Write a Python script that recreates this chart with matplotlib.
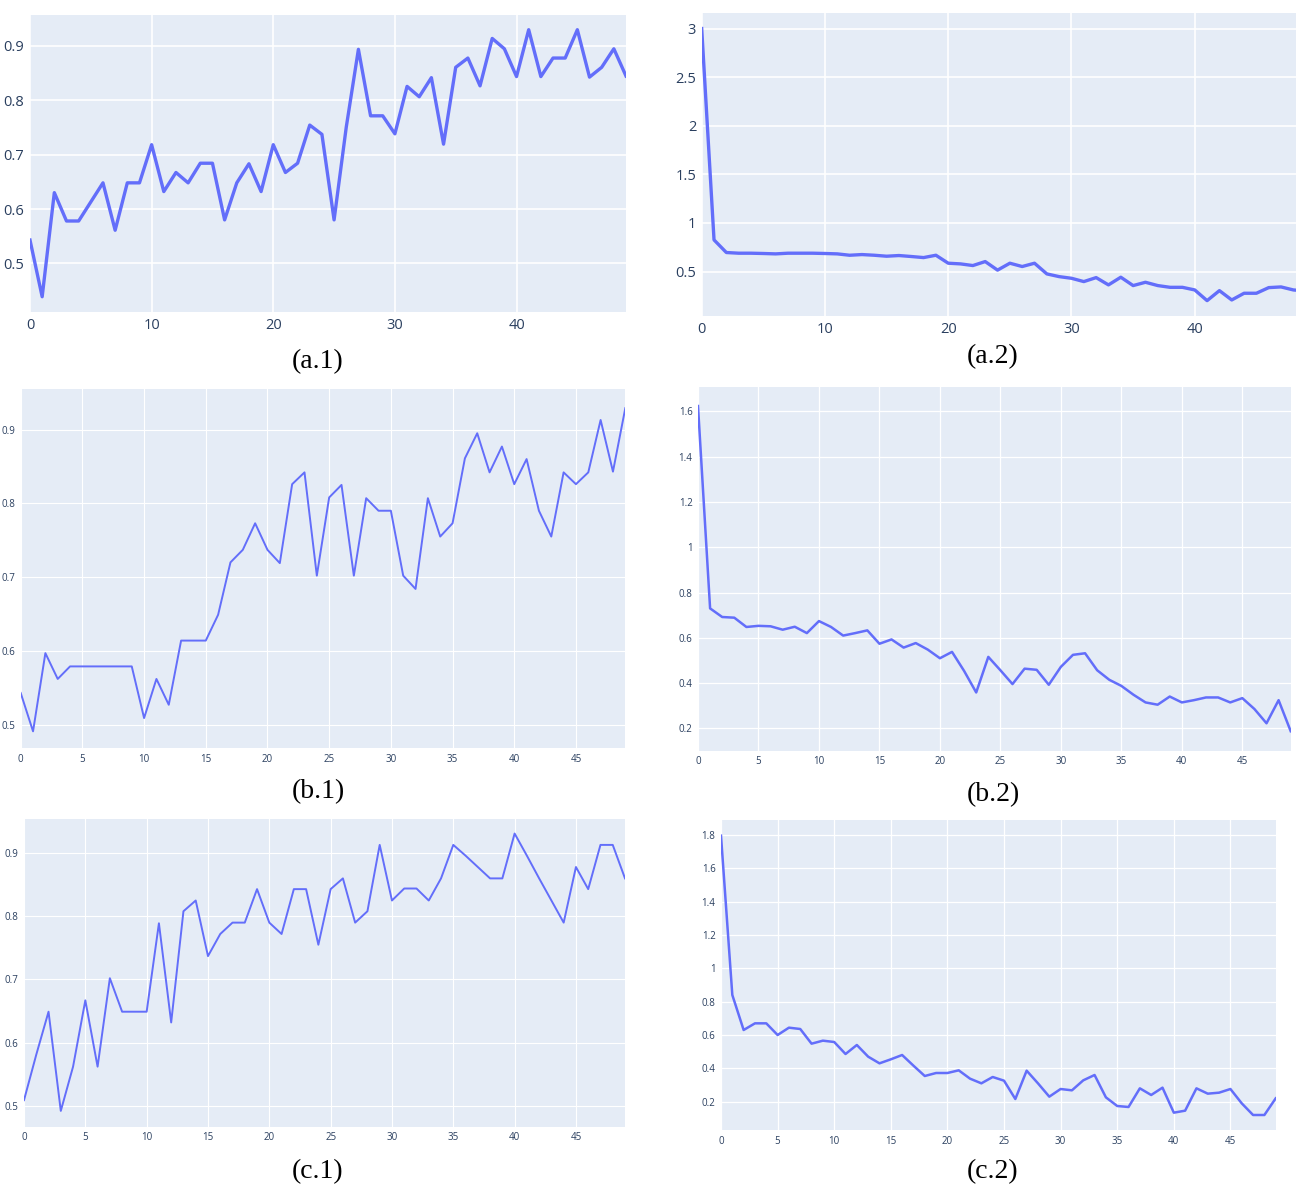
import matplotlib
matplotlib.use("Agg")
import matplotlib.pyplot as plt
from matplotlib.ticker import FuncFormatter, MultipleLocator

# ====== DATA ======
rounds = list(range(50))

acc_a = [0.543, 0.439, 0.630, 0.578, 0.578, 0.613, 0.648, 0.561, 0.648, 0.648,
         0.718, 0.632, 0.667, 0.648, 0.684, 0.684, 0.580, 0.648, 0.683, 0.632,
         0.718, 0.667, 0.684, 0.754, 0.737, 0.580, 0.750, 0.893, 0.771, 0.771,
         0.738, 0.825, 0.806, 0.841, 0.719, 0.860, 0.877, 0.826, 0.913, 0.894,
         0.843, 0.929, 0.843, 0.877, 0.877, 0.929, 0.842, 0.860, 0.894, 0.844]

loss_a = [3.000, 0.826, 0.696, 0.689, 0.689, 0.686, 0.682, 0.689, 0.689, 0.689,
          0.686, 0.682, 0.668, 0.675, 0.668, 0.658, 0.665, 0.655, 0.644, 0.668,
          0.586, 0.579, 0.562, 0.603, 0.515, 0.586, 0.552, 0.586, 0.476, 0.448,
          0.431, 0.397, 0.438, 0.363, 0.442, 0.356, 0.390, 0.356, 0.338, 0.338,
          0.311, 0.201, 0.304, 0.208, 0.277, 0.277, 0.335, 0.342, 0.311, 0.300]

acc_b = [0.543, 0.491, 0.597, 0.562, 0.579, 0.579, 0.579, 0.579, 0.579, 0.579,
         0.509, 0.562, 0.527, 0.614, 0.614, 0.614, 0.649, 0.720, 0.737, 0.773,
         0.737, 0.719, 0.826, 0.842, 0.702, 0.808, 0.825, 0.702, 0.807, 0.790,
         0.790, 0.702, 0.684, 0.807, 0.755, 0.773, 0.861, 0.895, 0.842, 0.877,
         0.826, 0.860, 0.790, 0.755, 0.842, 0.826, 0.842, 0.913, 0.843, 0.929]

loss_b = [1.623, 0.730, 0.692, 0.689, 0.648, 0.653, 0.651, 0.636, 0.649, 0.621,
          0.674, 0.648, 0.610, 0.621, 0.633, 0.574, 0.593, 0.557, 0.577, 0.548,
          0.510, 0.538, 0.454, 0.359, 0.516, 0.457, 0.396, 0.464, 0.459, 0.393,
          0.472, 0.525, 0.532, 0.457, 0.415, 0.388, 0.349, 0.315, 0.305, 0.341,
          0.315, 0.325, 0.337, 0.337, 0.315, 0.334, 0.286, 0.223, 0.325, 0.188]

acc_c = [0.509, 0.581, 0.649, 0.492, 0.562, 0.667, 0.562, 0.702, 0.649, 0.649,
         0.649, 0.789, 0.632, 0.808, 0.825, 0.737, 0.772, 0.790, 0.790, 0.843,
         0.790, 0.772, 0.843, 0.843, 0.755, 0.843, 0.860, 0.790, 0.808, 0.913,
         0.825, 0.844, 0.844, 0.825, 0.860, 0.913, 0.896, 0.878, 0.860, 0.860,
         0.931, 0.896, 0.860, 0.825, 0.790, 0.878, 0.843, 0.913, 0.913, 0.860]

loss_c = [1.796, 0.840, 0.630, 0.670, 0.670, 0.600, 0.644, 0.636, 0.548, 0.566,
          0.558, 0.486, 0.540, 0.470, 0.430, 0.454, 0.480, 0.416, 0.354, 0.372,
          0.372, 0.388, 0.338, 0.310, 0.348, 0.326, 0.216, 0.386, 0.310, 0.230,
          0.276, 0.268, 0.328, 0.360, 0.226, 0.174, 0.168, 0.280, 0.240, 0.284,
          0.134, 0.146, 0.280, 0.248, 0.254, 0.276, 0.190, 0.120, 0.120, 0.220]

captions = ["(a.1)", "(a.2)", "(b.1)", "(b.2)", "(c.1)", "(c.2)"]

# ====== LAYOUT (pixel boxes: left, right, top, bottom) ======
W, H = 1296, 1190
BG = "#E5ECF6"
LINE = "#636EFA"
TICK = "#2a3f5f"

panels = [
    # series, box, ylim, xstep, ystep, linewidth, gridwidth, ticksize, caption pos
    (acc_a, (30, 626, 15, 312), (0.411, 0.956), 10, 0.1, 2.4, 1.2, 10.5, (318, 362)),
    (loss_a, (701.7, 1305.7, 13, 316), (0.043, 3.16), 10, 0.5, 2.4, 1.2, 10.5, (993, 357)),
    (acc_b, (20.7, 625.3, 389, 748.3), (0.468, 0.955), 5, 0.1, 1.4, 0.8, 7, (318, 792)),
    (loss_b, (698, 1290.7, 387, 750.7), (0.102, 1.707), 5, 0.2, 1.8, 0.9, 7, (993, 795)),
    (acc_c, (24, 625, 819, 1126.7), (0.467, 0.954), 5, 0.1, 1.4, 0.8, 7, (318, 1172)),
    (loss_c, (721, 1275.7, 820, 1130), (0.03, 1.89), 5, 0.2, 1.8, 0.9, 7, (993, 1172)),
]

fig = plt.figure(figsize=(W / 100, H / 100), dpi=100)
fmt = FuncFormatter(lambda v, p: "{:g}".format(round(v, 3)))

for (vals, box, ylim, xstep, ystep, lw, gw, tsize, cap), label in zip(panels, captions):
    l, r, t, b = box
    ax = fig.add_axes([l / W, 1 - b / H, (r - l) / W, (b - t) / H])
    ax.set_facecolor(BG)
    ax.plot(rounds, vals, color=LINE, linewidth=lw, solid_joinstyle="round")
    ax.set_xlim(0, 49)
    ax.set_ylim(*ylim)
    ax.xaxis.set_major_locator(MultipleLocator(xstep))
    ax.yaxis.set_major_locator(MultipleLocator(ystep))
    ax.yaxis.set_major_formatter(fmt)
    ax.grid(True, color="white", linewidth=gw)
    ax.set_axisbelow(True)
    for s in ax.spines.values():
        s.set_visible(False)
    ax.tick_params(length=0, labelsize=tsize, labelcolor=TICK, pad=4)
    for lab in ax.get_xticklabels() + ax.get_yticklabels():
        lab.set_family("Open Sans")
    fig.text(cap[0] / W, 1 - cap[1] / H, label, ha="center", va="center",
             fontsize=20, family="Liberation Serif")

fig.savefig("out.png", dpi=100, facecolor="white")
